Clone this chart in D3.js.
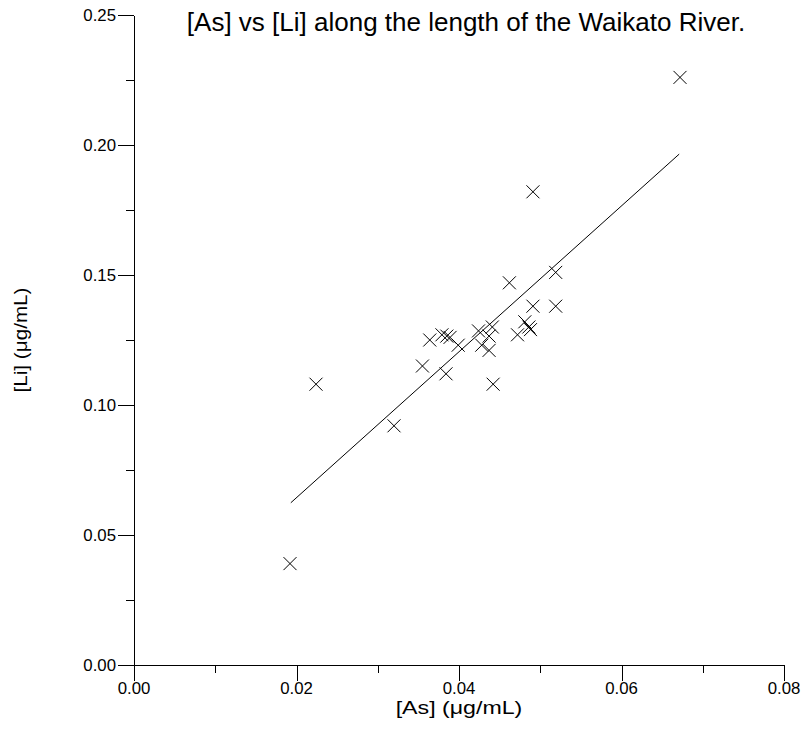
<!DOCTYPE html>
<html>
<head>
<meta charset="utf-8">
<script src="https://cdn.jsdelivr.net/npm/d3@7"></script>
<style>
  html, body { margin: 0; padding: 0; background: #fff; }
  text { font-family: "Liberation Sans", Arial, sans-serif; fill: #000; }
</style>
</head>
<body>
<script>
// ---- data ----
const titleText = "[As] vs [Li] along the length of the Waikato River.";
const xTitle = "[As] (\u03bcg/mL)";
const yTitle = "[Li] (\u03bcg/mL)";
const xTicks = [0, 0.02, 0.04, 0.06, 0.08];
const xMinorTicks = [0.01, 0.03, 0.05, 0.07];
const yTicks = [0, 0.05, 0.10, 0.15, 0.20, 0.25];
const yMinorTicks = [0.025, 0.075, 0.125, 0.175, 0.225];
const asValues = [0.0672, 0.0491, 0.0462, 0.0519, 0.0491, 0.0519, 0.0481, 0.0486, 0.0488,
  0.0472, 0.0441, 0.0424, 0.0437, 0.0428, 0.0437, 0.0364, 0.0379, 0.0385, 0.0389, 0.0399,
  0.0355, 0.0384, 0.0442, 0.0224, 0.0320, 0.0192];
const liValues = [0.226, 0.182, 0.147, 0.151, 0.138, 0.138, 0.132, 0.130, 0.129,
  0.127, 0.130, 0.1285, 0.1265, 0.123, 0.121, 0.125, 0.127, 0.1265, 0.126, 0.123,
  0.115, 0.112, 0.108, 0.108, 0.092, 0.039];
const fitAs = [0.0193, 0.0671];
const fitLi = [0.0624, 0.1965];

// ---- layout ----
const W = 807, H = 753;
const svg = d3.select("body").append("svg").attr("width", W).attr("height", H)
  .style("display", "block");
svg.append("rect").attr("width", W).attr("height", H).attr("fill", "#fff");

const x = d3.scaleLinear().domain([0, 0.08]).range([134, 784]);
const y = d3.scaleLinear().domain([0, 0.25]).range([665, 15]);

const majorLen = 16, minorLen = 8;

// x axis
const gx = svg.append("g").attr("transform", `translate(0,${y(0)})`);
gx.call(d3.axisBottom(x).tickValues(xTicks).tickSize(majorLen).tickSizeOuter(0).tickFormat(() => ""));
gx.append("g").call(d3.axisBottom(x).tickValues(xMinorTicks).tickSize(minorLen).tickSizeOuter(0).tickFormat(() => ""))
  .select(".domain").remove();

// y axis
const gy = svg.append("g").attr("transform", `translate(${x(0)},0)`);
gy.call(d3.axisLeft(y).tickValues(yTicks).tickSize(majorLen).tickSizeOuter(0).tickFormat(() => ""));
gy.append("g").call(d3.axisLeft(y).tickValues(yMinorTicks).tickSize(minorLen).tickSizeOuter(0).tickFormat(() => ""))
  .select(".domain").remove();

svg.selectAll(".domain, .tick line").attr("stroke", "#000").attr("stroke-width", 1)
  .attr("shape-rendering", "crispEdges");

// tick labels
const fmt = d3.format(".2f");
svg.append("g").selectAll("text").data(xTicks).join("text")
  .attr("transform", d => `translate(${x(d)},694) scale(1.05,1)`)
  .attr("text-anchor", "middle").attr("font-size", 16)
  .text(d => fmt(d));
svg.append("g").selectAll("text").data(yTicks).join("text")
  .attr("transform", d => `translate(116,${y(d)}) scale(1.05,1)`).attr("dy", "0.35em")
  .attr("text-anchor", "end").attr("font-size", 16)
  .text(d => fmt(d));

// axis titles
svg.append("text").attr("transform", "translate(459,714) scale(1.22,1)")
  .attr("text-anchor", "middle").attr("font-size", 19).text(xTitle);
svg.append("text").attr("transform", "translate(27,340) rotate(-90) scale(1.15,1)")
  .attr("text-anchor", "middle").attr("font-size", 18).text(yTitle);

// title
svg.append("text").attr("x", 466).attr("y", 31).attr("text-anchor", "middle")
  .attr("font-size", 26).text(titleText);

// fit line
svg.append("line")
  .attr("x1", x(fitAs[0])).attr("y1", y(fitLi[0]))
  .attr("x2", x(fitAs[1])).attr("y2", y(fitLi[1]))
  .attr("stroke", "#000").attr("stroke-width", 1);

// markers
const pts = asValues.map((a, i) => [a, liValues[i]]);
const s = 6.5;
svg.append("g").selectAll("path").data(pts).join("path")
  .attr("d", d => {
    const cx = x(d[0]), cy = y(d[1]);
    return `M${cx - s},${cy - s}L${cx + s},${cy + s}M${cx - s},${cy + s}L${cx + s},${cy - s}`;
  })
  .attr("stroke", "#000").attr("stroke-width", 1).attr("fill", "none");
</script>
</body>
</html>
